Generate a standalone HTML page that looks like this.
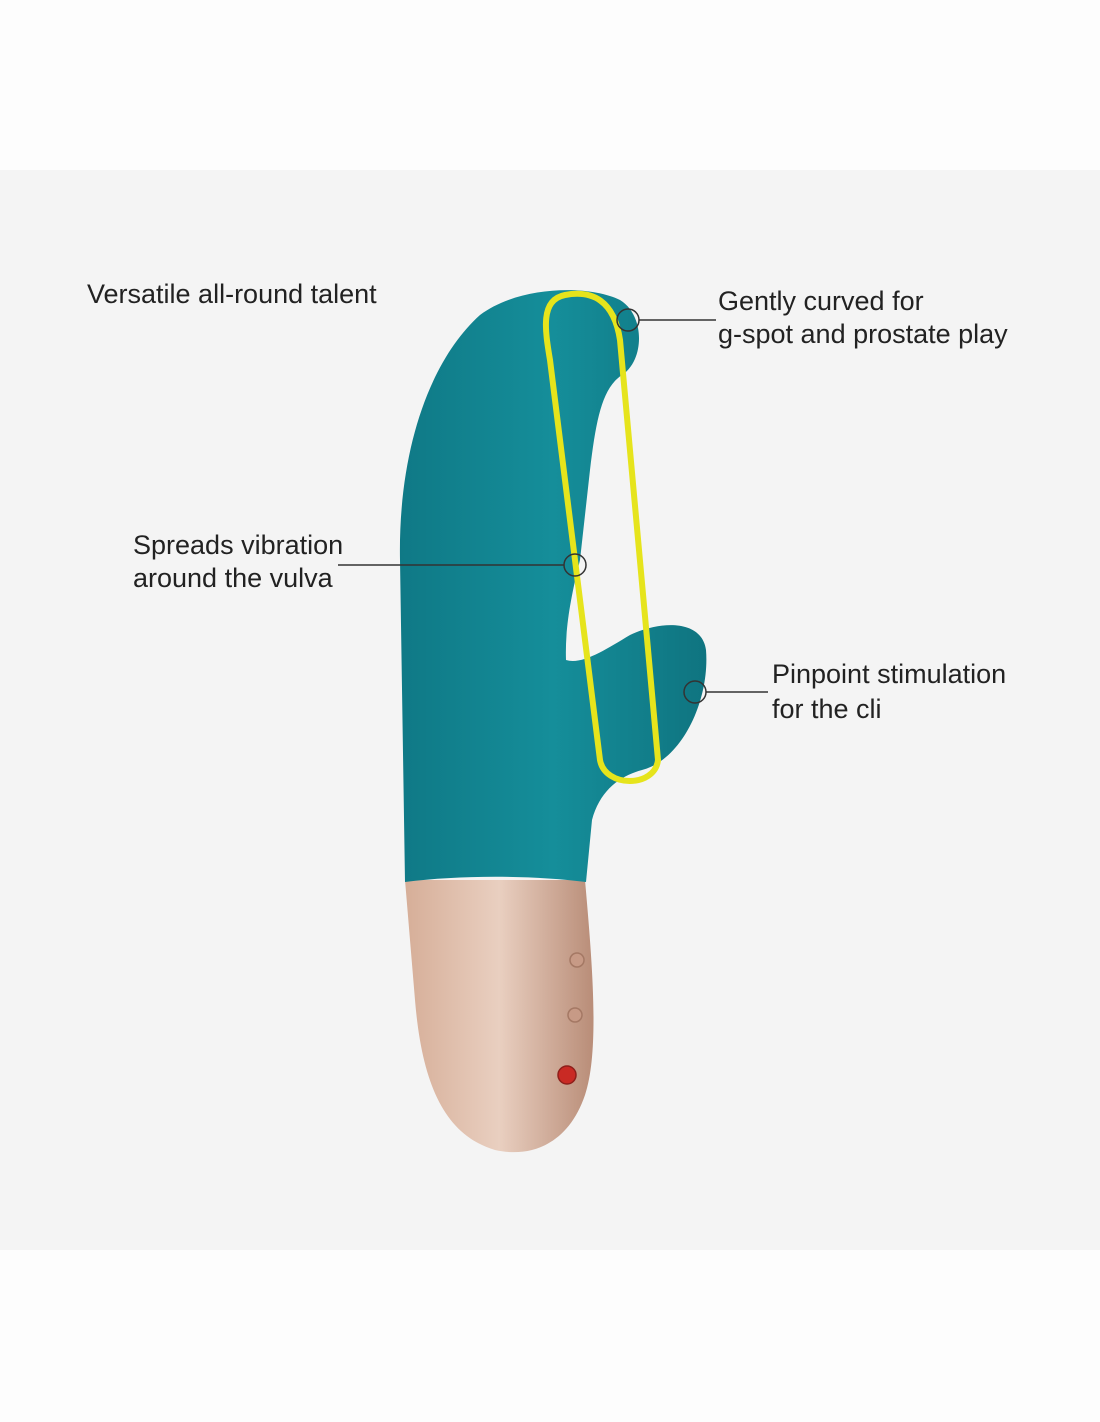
<!DOCTYPE html>
<html><head><meta charset="utf-8"><style>
html,body{margin:0;padding:0;background:#fdfdfd;}
svg{display:block}
text{font-family:"Liberation Sans",sans-serif;font-size:27px;fill:#222;}
</style></head><body>
<svg width="1100" height="1422" viewBox="0 0 1100 1422" xmlns="http://www.w3.org/2000/svg">
<defs>
<linearGradient id="gold" x1="0" x2="1" y1="0" y2="0">
<stop offset="0" stop-color="#d6ae98"/><stop offset="0.5" stop-color="#e9cfc0"/><stop offset="1" stop-color="#b98d78"/>
</linearGradient>
<linearGradient id="teal" x1="0" x2="1" y1="0" y2="0">
<stop offset="0" stop-color="#0f7986"/><stop offset="0.5" stop-color="#158e9a"/><stop offset="1" stop-color="#0f7480"/>
</linearGradient>
</defs>
<rect x="0" y="0" width="1100" height="1422" fill="#fdfdfd"/>
<rect x="0" y="170" width="1100" height="1080" fill="#f4f4f4"/>
<path d="M 405 880 L 585 880 C 592 960 600 1050 585 1095 C 568 1145 530 1158 495 1150 C 445 1135 422 1085 415 1000 Z" fill="url(#gold)"/>
<path d="M 405 882 L 400 560 C 398 450 430 360 480 315 C 520 285 590 285 620 300 C 645 315 645 360 622 375 C 602 388 596 420 590 470 L 580 560 C 570 600 565 630 566 660 C 582 665 605 650 630 635 C 662 620 702 620 706 650 C 710 700 682 760 642 770 C 620 776 600 790 592 820 L 586 882 C 530 875 460 875 405 882 Z" fill="url(#teal)"/>
<path d="M 565 295 C 540 300 545 330 550 360 L 600 760 C 605 788 655 788 658 760 L 620 340 C 614 300 592 290 565 295 Z" fill="none" stroke="#e6e41c" stroke-width="6"/>
<circle cx="577" cy="960" r="7" fill="#c79a86" stroke="#a47864" stroke-width="1.5"/>
<circle cx="575" cy="1015" r="7" fill="#c79a86" stroke="#a47864" stroke-width="1.5"/>
<circle cx="567" cy="1075" r="9" fill="#c92a24" stroke="#8e1f1a" stroke-width="1.5"/>
<g fill="none" stroke="#333" stroke-width="1.5">
<circle cx="628" cy="320" r="11"/><line x1="639" y1="320" x2="716" y2="320"/>
<circle cx="575" cy="565" r="11"/><line x1="338" y1="565" x2="564" y2="565"/>
<circle cx="695" cy="692" r="11"/><line x1="706" y1="692" x2="768" y2="692"/>
</g>
<text x="87" y="303">Versatile all-round talent</text>
<text x="718" y="310">Gently curved for</text>
<text x="718" y="343">g-spot and prostate play</text>
<text x="133" y="554">Spreads vibration</text>
<text x="133" y="587">around the vulva</text>
<text x="772" y="683">Pinpoint stimulation</text>
<text x="772" y="718">for the cli</text>
</svg>
</body></html>
